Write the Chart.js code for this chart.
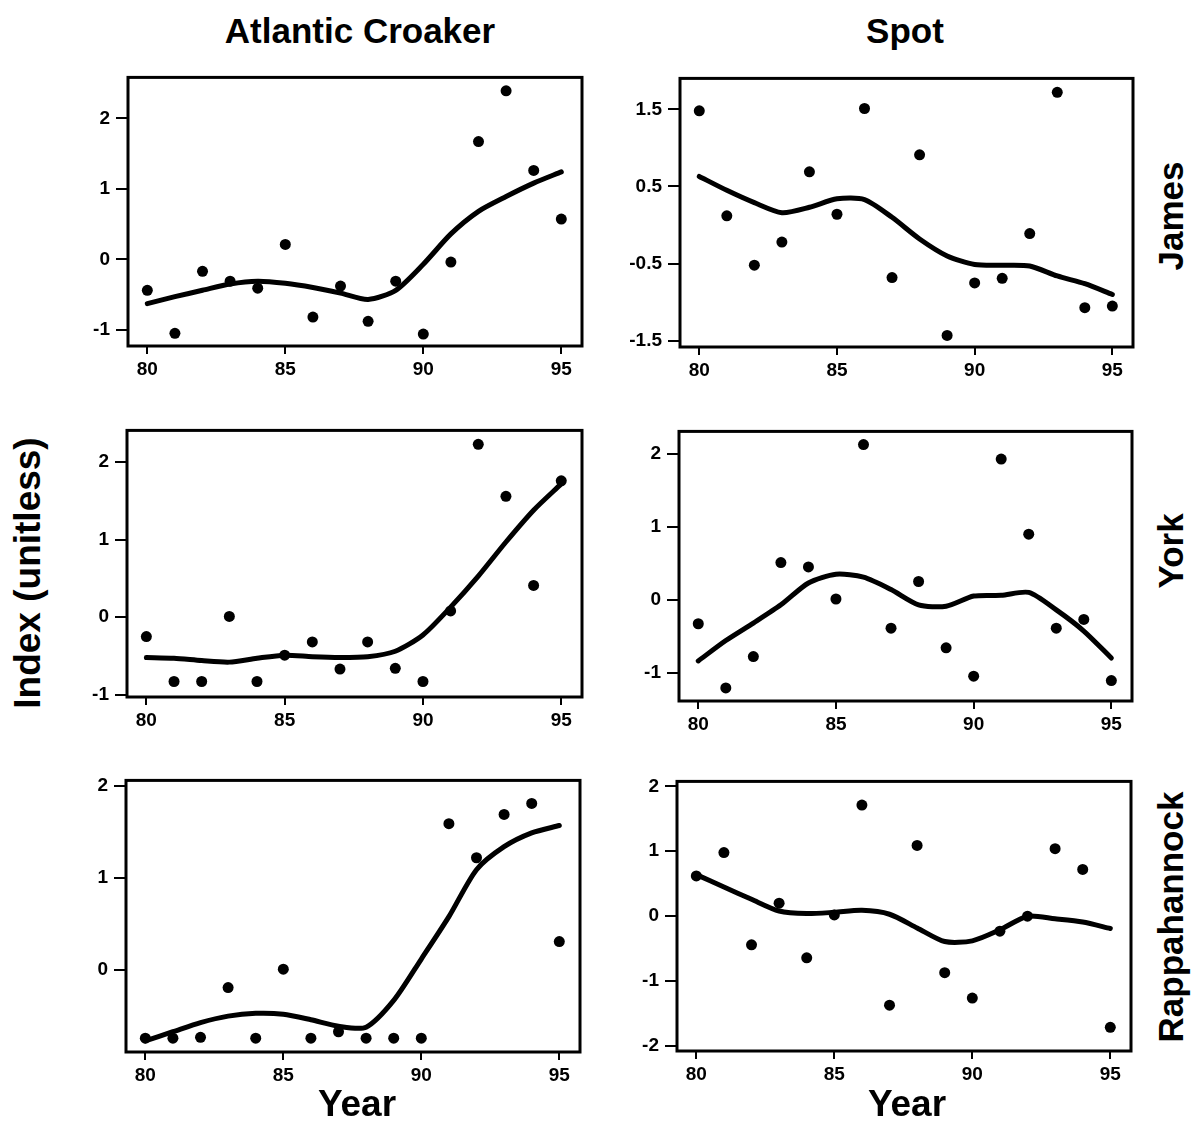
<!DOCTYPE html>
<html>
<head>
<meta charset="utf-8">
<script src="https://cdn.jsdelivr.net/npm/chart.js@4/dist/chart.umd.min.js"></script>
<style>
  html, body { margin: 0; padding: 0; background: #fff; }
  body { width: 1196px; height: 1123px; position: relative; overflow: hidden; font-family: "Liberation Sans", Arial, sans-serif; }
  canvas { position: absolute; }
  .lbl { position: absolute; font-weight: bold; color: #000; white-space: nowrap; line-height: 1; }
  .h { transform: translate(-50%, -50%); }
  .v { transform: translate(-50%, -50%) rotate(-90deg); }
</style>
</head>
<body>
<script>
// ---- data ----
const years = [80, 81, 82, 83, 84, 85, 86, 87, 88, 89, 90, 91, 92, 93, 94, 95];
const xTicks = [80, 85, 90, 95];

const croakerJames    = [-0.44, -1.05, -0.17, -0.31, -0.41, 0.21, -0.82, -0.38, -0.88, -0.31, -1.06, -0.04, 1.67, 2.39, 1.26, 0.57];
const croakerJamesFit = [-0.63, -0.53, -0.44, -0.35, -0.31, -0.34, -0.40, -0.48, -0.57, -0.44, -0.07, 0.36, 0.68, 0.89, 1.08, 1.24];
const spotJames       = [1.48, 0.12, -0.52, -0.22, 0.69, 0.14, 1.51, -0.68, 0.91, -1.43, -0.75, -0.69, -0.11, 1.72, -1.07, -1.05];
const spotJamesFit    = [0.63, 0.45, 0.29, 0.16, 0.23, 0.34, 0.33, 0.10, -0.18, -0.40, -0.51, -0.52, -0.53, -0.66, -0.76, -0.90];

const croakerYork     = [-0.25, -0.83, -0.83, 0.01, -0.83, -0.49, -0.32, -0.67, -0.32, -0.66, -0.83, 0.08, 2.23, 1.56, 0.41, 1.76];
const croakerYorkFit  = [-0.52, -0.53, -0.56, -0.58, -0.53, -0.49, -0.51, -0.52, -0.51, -0.44, -0.23, 0.13, 0.53, 0.97, 1.38, 1.72];
const spotYork        = [-0.33, -1.21, -0.78, 0.51, 0.45, 0.01, 2.13, -0.39, 0.25, -0.66, -1.05, 1.93, 0.90, -0.39, -0.27, -1.11];
const spotYorkFit     = [-0.84, -0.56, -0.32, -0.07, 0.23, 0.35, 0.31, 0.14, -0.07, -0.09, 0.05, 0.06, 0.10, -0.14, -0.43, -0.80];

const croakerRapp     = [-0.74, -0.74, -0.73, -0.19, -0.74, 0.01, -0.74, -0.67, -0.74, -0.74, -0.74, 1.59, 1.22, 1.69, 1.81, 0.31];
const croakerRappFit  = [-0.77, -0.67, -0.57, -0.50, -0.47, -0.48, -0.54, -0.61, -0.62, -0.33, 0.12, 0.58, 1.09, 1.34, 1.49, 1.57];
const spotRapp        = [0.62, 0.98, -0.44, 0.20, -0.64, 0.02, 1.71, -1.37, 1.09, -0.87, -1.26, -0.23, 0.00, 1.04, 0.72, -1.71];
const spotRappFit     = [0.64, 0.45, 0.26, 0.08, 0.04, 0.06, 0.09, 0.03, -0.18, -0.39, -0.38, -0.21, 0.00, -0.04, -0.09, -0.19];

const yTicksCroakerJames = [-1, 0, 1, 2];
const yTicksSpotJames    = [-1.5, -0.5, 0.5, 1.5];
const yTicksCroakerYork  = [-1, 0, 1, 2];
const yTicksSpotYork     = [-1, 0, 1, 2];
const yTicksCroakerRapp  = [0, 1, 2];
const yTicksSpotRapp     = [-2, -1, 0, 1, 2];

const columnTitles = ["Atlantic Croaker", "Spot"];
const rowTitles = ["James", "York", "Rappahannock"];
const xTitle = "Year";
const yTitle = "Index (unitless)";

// ---- layout ----
const YW = 60, XH = 40, PT = 10, PR = 10;
const panels = [
  { pts: croakerJames, fit: croakerJamesFit, ticks: yTicksCroakerJames, ymin: -1.23, ymax: 2.58, box: [128, 70, 582, 346] },
  { pts: spotJames,    fit: spotJamesFit,    ticks: yTicksSpotJames,    ymin: -1.58, ymax: 1.90, box: [680, 71, 1133, 347] },
  { pts: croakerYork,  fit: croakerYorkFit,  ticks: yTicksCroakerYork,  ymin: -1.03, ymax: 2.41, box: [127, 423, 582, 697] },
  { pts: spotYork,     fit: spotYorkFit,     ticks: yTicksSpotYork,     ymin: -1.39, ymax: 2.31, box: [679, 424, 1132, 701] },
  { pts: croakerRapp,  fit: croakerRappFit,  ticks: yTicksCroakerRapp,  ymin: -0.89, ymax: 2.06, box: [126, 773, 580, 1052] },
  { pts: spotRapp,     fit: spotRappFit,     ticks: yTicksSpotRapp,     ymin: -2.075, ymax: 2.075, box: [677, 774, 1131, 1051] }
];

const boxPlugin = {
  id: 'box',
  afterDraw(chart) {
    const a = chart.chartArea, ctx = chart.ctx;
    ctx.save();
    ctx.lineWidth = 3;
    ctx.strokeStyle = '#000';
    ctx.strokeRect(a.left, a.top, a.right - a.left, a.bottom - a.top);
    ctx.restore();
  }
};

const tickFont = { family: "Liberation Sans", size: 19, weight: 'bold' };

panels.forEach(p => {
  const [L, T, R, B] = p.box;
  const cv = document.createElement('canvas');
  const w = (R - L) + YW + PR, h = (B - T) + PT + XH;
  cv.width = w; cv.height = h;
  cv.style.left = (L - YW) + 'px';
  cv.style.top = (T - PT) + 'px';
  cv.style.width = w + 'px'; cv.style.height = h + 'px';
  document.body.appendChild(cv);
  const ptsData = years.map((x, i) => ({ x, y: p.pts[i] }));
  const fitData = years.map((x, i) => ({ x, y: p.fit[i] }));
  new Chart(cv.getContext('2d'), {
    type: 'line',
    data: {
      datasets: [
        { data: fitData, borderColor: '#000', borderWidth: 5, pointRadius: 0, tension: 0.25, fill: false, borderCapStyle: 'round', borderJoinStyle: 'round' },
        { data: ptsData, showLine: false, pointRadius: 5.5, pointBackgroundColor: '#000', pointBorderColor: '#000', pointBorderWidth: 0 }
      ]
    },
    options: {
      responsive: false,
      animation: false,
      devicePixelRatio: 1,
      layout: { padding: { top: PT, right: PR, left: 0, bottom: 0 } },
      plugins: { legend: { display: false }, tooltip: { enabled: false } },
      scales: {
        x: {
          type: 'linear', min: 79.3, max: 95.75,
          afterBuildTicks: s => { s.ticks = xTicks.map(v => ({ value: v })); },
          afterFit: s => { s.height = XH; },
          grid: { drawOnChartArea: false, drawTicks: true, tickLength: 8, color: '#000', lineWidth: 2 },
          border: { display: false },
          ticks: { color: '#000', font: tickFont, padding: 4, maxRotation: 0, autoSkip: false, callback: v => String(v) }
        },
        y: {
          type: 'linear', min: p.ymin, max: p.ymax,
          afterBuildTicks: s => { s.ticks = p.ticks.map(v => ({ value: v })); },
          afterFit: s => { s.width = YW; },
          grid: { drawOnChartArea: false, drawTicks: true, tickLength: 12, color: '#000', lineWidth: 2 },
          border: { display: false },
          ticks: { color: '#000', font: tickFont, padding: 6, autoSkip: false, callback: v => String(v) }
        }
      }
    },
    plugins: [boxPlugin]
  });
});

// ---- text labels ----
function addLabel(text, x, y, size, cls) {
  const d = document.createElement('div');
  d.className = 'lbl ' + cls;
  d.textContent = text;
  d.style.left = x + 'px';
  d.style.top = y + 'px';
  d.style.fontSize = size + 'px';
  document.body.appendChild(d);
}
addLabel(columnTitles[0], 360, 30, 35, 'h');
addLabel(columnTitles[1], 905, 30, 35, 'h');
addLabel(rowTitles[0], 1170, 216, 35, 'v');
addLabel(rowTitles[1], 1170, 551, 35, 'v');
addLabel(rowTitles[2], 1170, 917, 35, 'v');
addLabel(yTitle, 27, 573, 37, 'v');
addLabel(xTitle, 357, 1103, 37, 'h');
addLabel(xTitle, 907, 1103, 37, 'h');
</script>
</body>
</html>
